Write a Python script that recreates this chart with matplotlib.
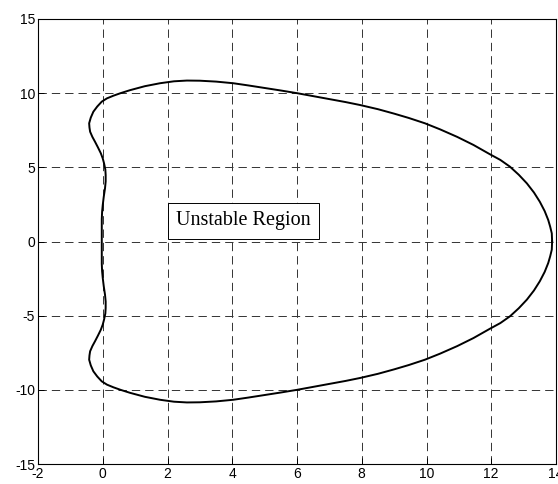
import matplotlib
matplotlib.use("Agg")
import matplotlib.pyplot as plt

plt.rcParams['lines.scale_dashes'] = False

# Upper half of the boundary, right tip -> left side
x_upper = [13.88, 13.87, 13.82, 13.76, 13.65, 13.50, 13.32, 13.10, 12.85, 12.58,
           12.28, 11.96, 11.45, 10.95, 10.42, 9.95, 9.45, 9.00, 8.50, 7.95,
           7.50, 7.00, 6.50, 6.00, 5.50, 5.00, 4.50, 4.03, 3.50, 3.00,
           2.60, 2.20, 1.77, 1.30, 0.84, 0.55, 0.33, 0.13, -0.03, -0.17,
           -0.29, -0.37, -0.42, -0.41, -0.39, -0.32, -0.24, -0.15, -0.06, 0.00,
           0.04, 0.08, 0.09, 0.09, 0.07, 0.03, 0.00, -0.02, -0.03, -0.03,
           -0.03, -0.03]
y_upper = [0.00, 0.55, 1.00, 1.45, 2.05, 2.68, 3.30, 3.92, 4.50, 5.04,
           5.50, 5.88, 6.51, 7.05, 7.56, 7.97, 8.33, 8.62, 8.92, 9.20,
           9.40, 9.60, 9.80, 10.00, 10.18, 10.35, 10.52, 10.67, 10.78, 10.84,
           10.85, 10.80, 10.67, 10.47, 10.20, 10.00, 9.83, 9.65, 9.43, 9.10,
           8.75, 8.35, 7.97, 7.68, 7.40, 7.05, 6.73, 6.35, 5.95, 5.60,
           5.27, 4.85, 4.48, 4.05, 3.59, 3.00, 2.46, 2.00, 1.50, 1.00,
           0.50, 0.00]

# Lower half, left side -> right tip
x_lower = [-0.03, -0.03, -0.03, -0.03, -0.02, 0.00, 0.03, 0.07, 0.09, 0.09,
           0.08, 0.04, 0.00, -0.06, -0.15, -0.24, -0.32, -0.39, -0.41, -0.42,
           -0.37, -0.29, -0.17, -0.03, 0.13, 0.33, 0.55, 0.84, 1.30, 1.77,
           2.20, 2.60, 3.00, 3.50, 4.03, 4.50, 5.00, 5.50, 6.00, 6.50,
           7.00, 7.50, 7.95, 8.50, 9.00, 9.45, 9.95, 10.42, 10.95, 11.45,
           11.96, 12.28, 12.58, 12.85, 13.10, 13.32, 13.50, 13.65, 13.76, 13.82,
           13.87, 13.88]
y_lower = [0.00, -0.50, -1.00, -1.50, -2.00, -2.46, -3.00, -3.59, -4.05, -4.48,
           -4.85, -5.27, -5.60, -5.95, -6.35, -6.73, -7.05, -7.40, -7.68, -7.97,
           -8.35, -8.75, -9.10, -9.43, -9.65, -9.83, -10.00, -10.20, -10.47, -10.67,
           -10.80, -10.85, -10.84, -10.78, -10.67, -10.52, -10.35, -10.18, -10.00, -9.80,
           -9.60, -9.40, -9.20, -8.92, -8.62, -8.33, -7.97, -7.56, -7.05, -6.51,
           -5.88, -5.50, -5.04, -4.50, -3.92, -3.30, -2.68, -2.05, -1.45, -1.00,
           -0.55, 0.00]

x_ticks = [-2, 0, 2, 4, 6, 8, 10, 12, 14]
y_ticks = [-15, -10, -5, 0, 5, 10, 15]
label_text = "Unstable Region"

fig = plt.figure(figsize=(5.58, 4.84), dpi=100)
ax = fig.add_axes([38/558, 20/484, 518/558, 445/484])

ax.plot(x_upper + x_lower, y_upper + y_lower, color='black', lw=1.4, zorder=3,
        solid_joinstyle='round')

ax.set_xlim(-2, 14)
ax.set_ylim(-15, 15)
ax.set_xticks(x_ticks)
ax.set_yticks(y_ticks)
ax.set_xticklabels([str(v) for v in x_ticks], family='Liberation Sans', fontsize=10)
ax.set_yticklabels([str(v) for v in y_ticks], family='Liberation Sans', fontsize=10)
ax.tick_params(direction='in', length=4, width=0.7, pad=2, colors='black')

ax.grid(True, color='0.2', lw=0.7, linestyle=(0, (6, 3.6)))
for s in ax.spines.values():
    s.set_linewidth(0.8)
    s.set_color('black')

ax.text(2.27, 1.4, label_text, family='Liberation Serif', fontsize=14.5,
        ha='left', va='center', zorder=4,
        bbox=dict(boxstyle='square,pad=0.42', facecolor='white',
                  edgecolor='black', lw=0.7))

fig.savefig('out.png', dpi=100)
